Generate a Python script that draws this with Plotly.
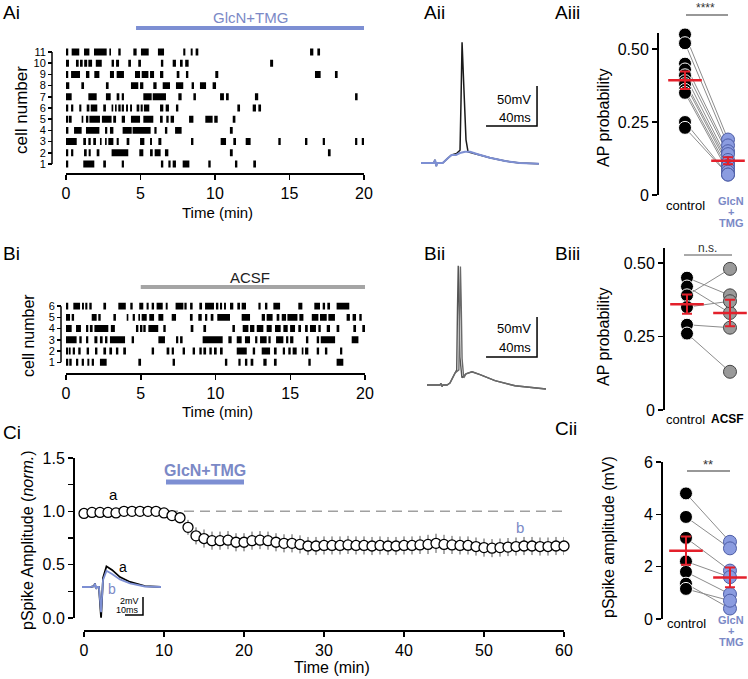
import plotly.graph_objects as go

W, H = 748, 679
FONT = "Liberation Sans, Arial, sans-serif"
BLUE = "#7d8fd3"
BLUE_TXT = "#7b89c6"
BLUE_DOT = "#8b9ce0"
BLUE_EDGE = "#4d5da6"
GRAY_DOT = "#9a9a9a"
RED = "#e3202b"

# ---------------- DATA ----------------
# Ai raster: firing epochs (start, end) in minutes per cell
ai_c11 = [(0.0, 0.15), (0.38, 0.89), (1.21, 1.57), (1.88, 2.73), (2.91, 3.02), (3.51, 3.67), (4.52, 4.74), (5.03, 5.55), (6.17, 6.58), (7.87, 8.01), (8.37, 8.50), (8.70, 8.88), (16.38, 16.60), (16.87, 17.05)]
ai_c10 = [(0.0, 0.2), (0.67, 0.85), (0.94, 1.12), (1.22, 1.42), (1.5, 1.75), (2.0, 2.4), (3.06, 3.22), (3.36, 3.56), (4.18, 4.36), (4.85, 5.03), (6.37, 6.53), (7.16, 7.38), (7.65, 7.83), (8.0, 8.23), (13.7, 13.9)]
ai_c9 = [(0.0, 0.15), (0.34, 0.94), (1.34, 1.57), (1.90, 2.24), (2.95, 3.22), (3.40, 3.89), (4.63, 4.97), (5.08, 5.53), (5.64, 5.91), (6.31, 6.53), (7.43, 7.61), (8.05, 8.21), (10.02, 10.22), (16.71, 17.09), (18.05, 18.23)]
ai_c8 = [(0.0, 0.22), (1.03, 1.21), (2.68, 2.86), (4.36, 4.85), (4.97, 5.19), (5.86, 6.08), (6.49, 6.98), (7.38, 7.87), (8.43, 8.59), (8.99, 9.40), (9.84, 10.07)]
ai_c7 = [(0.0, 0.38), (1.5, 2.06), (2.68, 3.0), (3.4, 3.58), (3.74, 3.89), (5.19, 5.75), (5.82, 6.71), (7.54, 7.76), (8.55, 8.72), (10.34, 10.6), (10.74, 10.92), (12.68, 12.9), (19.4, 19.57)]
ai_c6 = [(0.0, 0.15), (0.34, 0.49), (0.89, 1.03), (1.39, 1.57), (1.66, 2.1), (2.5, 2.68), (3.06, 3.17), (3.29, 3.4), (3.51, 3.67), (3.74, 3.89), (4.03, 4.16), (4.3, 4.43), (4.74, 4.92), (5.01, 5.15), (5.23, 5.59), (6.31, 6.53), (6.69, 6.91), (7.38, 7.54), (11.5, 11.68), (12.53, 12.75), (12.91, 13.09)]
ai_c5 = [(0.0, 0.15), (0.2, 0.38), (1.05, 1.16), (1.34, 1.5), (1.57, 2.28), (2.41, 3.06), (3.17, 3.36), (3.74, 3.96), (4.36, 4.97), (5.19, 5.86), (6.31, 6.49), (6.73, 6.89), (7.02, 7.25), (8.26, 8.55), (9.35, 9.84), (9.95, 10.18), (11.19, 11.37)]
ai_c4 = [(0.0, 0.16), (0.54, 1.05), (1.34, 2.24), (2.62, 2.77), (2.95, 3.18), (3.80, 4.41), (4.47, 5.68), (5.93, 6.08), (6.64, 6.8), (7.32, 7.76), (11.0, 11.19)]
ai_c3 = [(0.0, 0.72), (1.16, 1.34), (1.5, 1.66), (1.83, 2.01), (2.28, 2.39), (2.62, 2.73), (2.84, 3.18), (3.4, 3.54), (4.07, 4.25), (4.97, 5.26), (5.64, 5.77), (6.2, 6.4), (8.39, 8.55), (10.38, 10.74), (11.23, 11.41), (12.06, 12.39), (14.25, 14.41), (16.04, 16.2), (17.23, 17.38), (19.4, 19.55), (19.85, 20.0)]
ai_c2 = [(0.0, 0.15), (0.34, 0.49), (1.21, 1.39), (1.52, 1.66), (2.06, 2.24), (3.06, 4.18), (4.92, 5.19), (5.64, 5.82), (5.95, 6.35), (6.64, 6.87), (11.0, 11.19), (17.58, 17.76)]
ai_c1 = [(0.0, 0.15), (1.16, 1.9), (2.5, 2.68), (3.74, 3.89), (6.37, 6.53), (6.87, 7.02), (7.16, 7.38), (7.83, 8.28), (9.55, 9.71), (11.34, 11.5), (12.57, 12.75)]

# Bi raster
bi_c6 = [(0.0, 0.15), (0.49, 0.94), (1.07, 1.2), (1.29, 1.43), (1.56, 1.72), (2.5, 2.68), (3.5, 4.0), (4.3, 4.46), (4.9, 5.17), (5.39, 5.53), (5.73, 5.89), (6.06, 6.47), (6.67, 6.8), (7.33, 7.85), (7.92, 8.07), (8.3, 8.47), (8.92, 9.1), (9.3, 9.9), (10.03, 10.19), (10.3, 10.44), (10.57, 10.7), (10.97, 11.19), (11.46, 11.64), (11.75, 12.04), (12.87, 13.02), (13.31, 13.47), (13.87, 14.32), (15.54, 15.81), (16.61, 16.99), (17.17, 17.33), (17.48, 17.66), (18.1, 18.95)]
bi_c5 = [(0.0, 0.27), (0.38, 0.54), (1.72, 2.05), (2.16, 2.32), (3.17, 3.34), (4.06, 4.17), (4.46, 4.61), (4.84, 4.95), (5.06, 5.4), (5.57, 5.89), (6.18, 6.51), (7.07, 7.36), (8.29, 8.47), (8.85, 9.08), (9.3, 9.45), (9.68, 9.86), (10.12, 10.97), (11.75, 12.31), (13.09, 13.31), (13.42, 13.82), (14.09, 14.27), (14.43, 14.72), (14.81, 15.48), (15.61, 15.88), (16.44, 16.88), (16.99, 17.44), (17.55, 17.99), (18.77, 18.99), (19.17, 19.4), (19.62, 19.78)]
bi_c4 = [(0.0, 0.38), (0.67, 1.0), (1.34, 1.49), (1.6, 1.78), (1.9, 2.83), (3.0, 3.27), (4.68, 4.84), (4.95, 5.11), (5.17, 5.33), (5.51, 6.17), (6.51, 6.67), (8.34, 8.52), (9.19, 9.37), (11.13, 11.3), (11.82, 12.2), (12.31, 12.6), (12.76, 13.2), (13.42, 13.76), (13.98, 14.36), (14.54, 14.83), (14.99, 15.32), (15.54, 15.72), (15.99, 16.17), (16.32, 16.72), (16.88, 17.04), (17.44, 17.66), (18.1, 18.28), (19.22, 19.4), (19.82, 20.0)]
bi_c3 = [(0.0, 0.71), (0.89, 1.05), (1.34, 1.49), (1.9, 2.1), (2.27, 2.45), (2.61, 2.77), (2.94, 3.95), (4.39, 4.55), (6.18, 6.62), (7.36, 7.51), (7.63, 7.8), (9.14, 10.48), (10.86, 11.08), (11.42, 11.75), (11.97, 12.31), (12.65, 12.8), (12.98, 13.42), (13.54, 13.69), (14.05, 14.54), (14.72, 14.87), (14.99, 15.21), (16.05, 16.21), (16.77, 16.93), (17.04, 18.0), (19.11, 19.56)]
bi_c2 = [(0.0, 0.15), (0.2, 0.31), (0.45, 0.6), (0.82, 0.98), (1.38, 1.54), (1.94, 2.1), (2.5, 2.68), (2.9, 3.08), (3.34, 3.5), (3.83, 4.01), (5.73, 5.89), (6.73, 6.91), (7.07, 7.22), (7.8, 7.96), (8.47, 8.63), (8.92, 9.08), (9.19, 9.37), (9.59, 9.75), (9.9, 10.08), (10.3, 10.48), (11.42, 12.09), (12.49, 12.65), (13.09, 13.65), (13.91, 14.09), (14.5, 14.65), (14.87, 15.03), (15.16, 15.43), (15.77, 15.88), (15.99, 16.21), (16.77, 16.93), (17.32, 17.48), (18.33, 18.48)]
bi_c1 = [(0.0, 0.15), (0.22, 0.38), (0.67, 0.82), (1.05, 1.2), (1.43, 1.56), (1.72, 1.87), (2.27, 2.72), (4.84, 5.02), (7.13, 7.29), (10.63, 10.79), (11.53, 11.68), (11.97, 12.13), (12.35, 12.53), (13.2, 13.42), (13.91, 14.09), (16.21, 16.37), (18.1, 18.55)]

ai_cells = [ai_c1, ai_c2, ai_c3, ai_c4, ai_c5, ai_c6, ai_c7, ai_c8, ai_c9, ai_c10, ai_c11]
bi_cells = [bi_c1, bi_c2, bi_c3, bi_c4, bi_c5, bi_c6]
raster_xticks = [0, 5, 10, 15, 20]
ai_drug = (4.7, 20.0)   # GlcN+TMG application (min)
bi_drug = (5.0, 20.0)   # ACSF

# Aii example traces (ms, mV)
aii_ctrl_t = [0, 7, 10, 11, 12, 12.5, 17, 21, 24, 28, 30.6, 31.4, 32.2, 33.7, 35.3, 36.9, 40, 44.5, 54, 66, 77.5, 92.5]
aii_ctrl_v = [-65, -65, -65, -61, -69, -65, -65, -59, -55, -53, -49, 14, 86, 26, -36, -51, -52.5, -54, -58.5, -62.5, -65, -66]
aii_drug_t = [0, 7, 10, 11, 12, 12.5, 17, 21, 24, 27.5, 30.5, 34.5, 38.5, 44.5, 54, 66, 77.5, 92.5]
aii_drug_v = [-65, -65, -65, -61, -69, -65, -65, -59, -55, -55, -52.5, -51, -51, -54, -58.5, -62.5, -65, -66]
# Bii example traces
bii_t1 = [0, 10.2, 11, 11.8, 12.5, 15.7, 18, 22, 23.3, 23.9, 24.5, 25.1, 25.8, 27.4, 30.6, 35.3, 41.6, 53.3, 69, 93.3]
bii_v1 = [-65, -65, -63, -67, -65, -65, -62.5, -50, -46, 30, 84, 40, -30, -56, -51, -48.5, -52, -59.5, -66, -70]
bii_t2 = [0, 10.2, 11, 11.8, 12.5, 15.7, 18, 22, 25.0, 25.6, 26.2, 26.8, 27.5, 28.8, 30.6, 35.3, 41.6, 53.3, 69, 93.3]
bii_v2 = [-65, -65, -63, -67, -65, -65, -62.5, -50, -46, 30, 83, 40, -32, -56, -51, -48.5, -52, -59.5, -66, -70]
# scale bars: (t0, v0, ms, mV)
aii_scale = (51.0, -18.75, 40, 50)
bii_scale = (46.3, -30.0, 40, 50)

# Aiii AP probability
aiii_ctrl = [0.55, 0.52, 0.45, 0.43, 0.41, 0.39, 0.38, 0.36, 0.35, 0.25, 0.23]
aiii_drug = [0.19, 0.17, 0.15, 0.14, 0.12, 0.11, 0.10, 0.09, 0.08, 0.07, 0.07]
aiii_mean = [0.393, 0.117]
aiii_sem = [0.03, 0.012]
# Biii
biii_ctrl = [0.45, 0.42, 0.39, 0.35, 0.29, 0.26]
biii_acsf = [0.39, 0.33, 0.48, 0.37, 0.28, 0.13]
biii_mean = [0.36, 0.33]
biii_sem = [0.033, 0.045]
prob_ticks = [0, 0.25, 0.5]
prob_ticktext = ["0", "0.25", "0.50"]

# Ci time course
ci_time = list(range(61))
ci_mean = [0.98, 0.99, 0.99, 0.99, 0.985, 1.0, 1.0, 1.0, 1.0, 1.0, 0.985, 0.96, 0.94, 0.85, 0.77, 0.745, 0.725, 0.725, 0.73, 0.71,
           0.71, 0.725, 0.73, 0.725, 0.71, 0.70, 0.70, 0.69, 0.675, 0.675, 0.68, 0.68, 0.68, 0.685, 0.68, 0.68, 0.675, 0.68, 0.675, 0.675,
           0.68, 0.68, 0.685, 0.69, 0.70, 0.69, 0.685, 0.68, 0.68, 0.67, 0.66, 0.655, 0.66, 0.665, 0.67, 0.675, 0.675, 0.67, 0.67, 0.675, 0.675]
ci_sem = [0.02, 0.02, 0.02, 0.02, 0.02, 0.02, 0.02, 0.02, 0.02, 0.02, 0.03, 0.04, 0.05, 0.07, 0.08, 0.085, 0.085, 0.085, 0.085, 0.085,
          0.085, 0.085, 0.085, 0.085, 0.085, 0.085, 0.085, 0.085, 0.085, 0.085, 0.085, 0.085, 0.085, 0.085, 0.085, 0.085, 0.085, 0.085, 0.085, 0.085,
          0.085, 0.085, 0.085, 0.09, 0.09, 0.09, 0.085, 0.085, 0.085, 0.085, 0.085, 0.085, 0.085, 0.085, 0.085, 0.085, 0.085, 0.085, 0.085, 0.085, 0.085]
ci_drug = (10.25, 20.0)
ci_baseline = 1.0
# Ci inset example pSpikes (ms, mV)
ci_inset_t = [0, 4.4, 6.7, 7.2, 7.8, 8.3, 9.4, 10.0, 10.6, 11.1, 11.7, 13.6, 16.7, 21.1, 26.7, 35, 43.9]
ci_inset_a = [0, 0, 0.1, 0.4, -0.2, 0, 0, -2.0, -3.4, -1.4, 1.0, 2.3, 1.9, 1.1, 0.56, 0.1, 0]
ci_inset_b = [0, 0, 0.1, 0.4, -0.2, 0, 0, -1.8, -2.8, -1.2, 0.8, 1.8, 1.45, 0.85, 0.4, 0.06, 0]
ci_scale = (23.9, -3.11, 10, 2)

# Cii pSpike amplitude
cii_ctrl = [4.8, 3.9, 3.1, 2.2, 1.8, 1.35, 1.15]
cii_drug = [2.95, 2.7, 1.85, 1.6, 0.95, 0.4, 0.7]
cii_mean = [2.61, 1.59]
cii_sem = [0.54, 0.38]


# ---------------- helpers ----------------
def fx(px):
    return px / W


def fy(py):
    return 1 - py / H


def txt(text, x, y, size=14, color="black", xanchor="center", yanchor="middle", angle=0):
    return dict(text=text, x=fx(x), y=fy(y), xref="paper", yref="paper", showarrow=False,
                font=dict(size=size, color=color, family=FONT), xanchor=xanchor, yanchor=yanchor,
                textangle=angle)


def axis(dom, rng, pos, tickvals=None, ticktext=None, fs=15, showline=True, ticklen=5, visible=True, horiz=True):
    if horiz:
        d = [fx(dom[0]), fx(dom[1])]
        p = fy(pos) if pos is not None else 0
    else:
        d = [fy(dom[1]), fy(dom[0])]
        p = fx(pos) if pos is not None else 0
    return dict(domain=d, range=rng, anchor="free", position=min(max(p, 0), 1), visible=visible,
                automargin=False,
                showline=showline, linecolor="black", linewidth=1.5, ticks="outside" if tickvals is not None else "",
                ticklen=ticklen, tickwidth=1.5, tickcolor="black", tickvals=tickvals, ticktext=ticktext,
                showticklabels=tickvals is not None,
                tickfont=dict(size=fs, family=FONT, color="black"), showgrid=False, zeroline=False, fixedrange=True)


fig = go.Figure()
shapes = []
ann = []


def raster(cells, xa, ya, width):
    ys, xs, bs = [], [], []
    for i, cell in enumerate(cells):
        for s, e in cell:
            ys.append(i + 1)
            bs.append(s)
            xs.append(e - s)
    fig.add_trace(go.Bar(y=ys, x=xs, base=bs, orientation="h", width=width,
                         marker=dict(color="black", line=dict(width=0)), xaxis=xa, yaxis=ya,
                         showlegend=False, hoverinfo="skip"))


raster(ai_cells, "x", "y", 0.62)
raster(bi_cells, "x4", "y4", 0.62)


def trace(t, v, color, width, xa, ya):
    fig.add_trace(go.Scatter(x=t, y=v, mode="lines", line=dict(color=color, width=width), xaxis=xa, yaxis=ya,
                             showlegend=False, hoverinfo="skip", cliponaxis=False))


def scalebar(sb, xa, ya):
    t0, v0, ms, mv = sb
    trace([t0, t0 + ms, t0 + ms], [v0, v0, v0 + mv], "black", 1.5, xa, ya)


trace(aii_ctrl_t, aii_ctrl_v, "#1a1a1a", 1.5, "x2", "y2")
trace(aii_drug_t, aii_drug_v, BLUE, 2, "x2", "y2")
scalebar(aii_scale, "x2", "y2")
trace(bii_t1, bii_v1, "#555555", 1.4, "x5", "y5")
trace(bii_t2, bii_v2, "#6a6a6a", 1.4, "x5", "y5")
scalebar(bii_scale, "x5", "y5")
trace(ci_inset_t, ci_inset_a, "black", 1.8, "x8", "y8")
trace(ci_inset_t, ci_inset_b, BLUE, 1.8, "x8", "y8")
scalebar(ci_scale, "x8", "y8")


def paired(ctrl, drug, fill2, edge2, mean, sem, xa, ya):
    xs, ys = [], []
    for c, d in zip(ctrl, drug):
        xs += [0, 1, None]
        ys += [c, d, None]
    fig.add_trace(go.Scatter(x=xs, y=ys, mode="lines", line=dict(color="#8c8c8c", width=1),
                             xaxis=xa, yaxis=ya, showlegend=False, hoverinfo="skip", cliponaxis=False))
    fig.add_trace(go.Scatter(x=[0] * len(ctrl), y=ctrl, mode="markers",
                             marker=dict(size=13, color="black", line=dict(color="white", width=1)),
                             xaxis=xa, yaxis=ya, showlegend=False, hoverinfo="skip", cliponaxis=False))
    fig.add_trace(go.Scatter(x=[1] * len(drug), y=drug, mode="markers",
                             marker=dict(size=13, color=fill2, line=dict(color=edge2, width=1)),
                             xaxis=xa, yaxis=ya, showlegend=False, hoverinfo="skip", cliponaxis=False))
    fig.add_trace(go.Scatter(x=[0, 1], y=mean, mode="markers",
                             marker=dict(symbol="line-ew", size=24, line=dict(color=RED, width=2.5)),
                             error_y=dict(type="data", array=sem, color=RED, thickness=2, width=5),
                             xaxis=xa, yaxis=ya, showlegend=False, hoverinfo="skip", cliponaxis=False))


paired(aiii_ctrl, aiii_drug, BLUE_DOT, BLUE_EDGE, aiii_mean, aiii_sem, "x3", "y3")
paired(biii_ctrl, biii_acsf, GRAY_DOT, "#444444", biii_mean, biii_sem, "x6", "y6")
paired(cii_ctrl, cii_drug, BLUE_DOT, BLUE_EDGE, cii_mean, cii_sem, "x9", "y9")

# Ci time course
fig.add_trace(go.Scatter(x=ci_time, y=ci_mean, mode="markers",
                         marker=dict(symbol="circle", size=10, color="white", line=dict(color="black", width=1.3)),
                         error_y=dict(type="data", array=ci_sem, color="#555555", thickness=1, width=0),
                         xaxis="x7", yaxis="y7", showlegend=False, hoverinfo="skip", cliponaxis=False))

# ---------------- layout ----------------
lay = {}
# Ai
lay["xaxis"] = axis((66, 364), [0, 20], 173, raster_xticks, [str(v) for v in raster_xticks], fs=16)
lay["yaxis"] = axis((45.3, 170.7), [0.4, 11.6], 52, list(range(1, 12)), [str(v) for v in range(1, 12)],
                    fs=11, showline=False, ticklen=4, horiz=False)
shapes.append(dict(type="line", xref="paper", yref="y", x0=fx(52), x1=fx(52), y0=1, y1=11,
                   line=dict(color="black", width=1.5)))
# Aii
lay["xaxis2"] = axis((415, 545), [-4.71, 97.25], None, visible=False)
lay["yaxis2"] = axis((35, 170), [-73.75, 95], None, visible=False, horiz=False)
# Aiii
lay["xaxis3"] = axis((657, 748), [-0.651, 1.465], None, visible=False)
lay["yaxis3"] = axis((33, 195), [0, 0.555], 657, prob_ticks, prob_ticktext, fs=16, horiz=False)
# Bi
lay["xaxis4"] = axis((66, 365), [0, 20], 373, raster_xticks, [str(v) for v in raster_xticks], fs=16)
lay["yaxis4"] = axis((299.4, 369), [0.4, 6.6], 61, list(range(1, 7)), [str(v) for v in range(1, 7)],
                     fs=11, showline=False, ticklen=4, horiz=False)
shapes.append(dict(type="line", xref="paper", yref="y4", x0=fx(61), x1=fx(61), y0=1, y1=6,
                   line=dict(color="black", width=1.5)))
# Bii
lay["xaxis5"] = axis((421, 551), [-4.71, 97.25], None, visible=False)
lay["yaxis5"] = axis((257, 392), [-73.75, 95], None, visible=False, horiz=False)
# Biii
lay["xaxis6"] = axis((663, 748), [-0.558, 1.419], None, visible=False)
lay["yaxis6"] = axis((248, 410), [0, 0.551], 663, prob_ticks, prob_ticktext, fs=16, horiz=False)
# Ci
lay["xaxis7"] = axis((84, 564), [0, 60], 630, [0, 10, 20, 30, 40, 50, 60], None, fs=16)
ci_yt = [0, 0.25, 0.5, 0.75, 1.0, 1.25, 1.5]
lay["yaxis7"] = axis((458, 618), [0, 1.5], 73, ci_yt, ["0.0", "", "0.5", "", "1.0", "", "1.5"], fs=16, horiz=False)
# Ci inset
lay["xaxis8"] = axis((76, 170), [-3.33, 48.9], None, visible=False)
lay["yaxis8"] = axis((555, 622), [-3.89, 3.56], None, visible=False, horiz=False)
# Cii
lay["xaxis9"] = axis((661, 748), [-0.568, 1.41], None, visible=False)
lay["yaxis9"] = axis((462, 619), [0, 6], 661, [0, 2, 4, 6], ["0", "2", "4", "6"], fs=16, horiz=False)

# drug bars
shapes.append(dict(type="line", xref="x", yref="paper", x0=ai_drug[0], x1=ai_drug[1], y0=fy(28), y1=fy(28),
                   line=dict(color=BLUE, width=4)))
shapes.append(dict(type="line", xref="x4", yref="paper", x0=bi_drug[0], x1=bi_drug[1], y0=fy(287), y1=fy(287),
                   line=dict(color="#a5a5a5", width=4)))
shapes.append(dict(type="line", xref="x7", yref="paper", x0=ci_drug[0], x1=ci_drug[1], y0=fy(482), y1=fy(482),
                   line=dict(color=BLUE, width=5)))
shapes.append(dict(type="line", xref="x7", yref="y7", x0=10.5, x1=60, y0=ci_baseline, y1=ci_baseline,
                   line=dict(color="#a0a0a0", width=1.5, dash="10px,6px"), layer="below"))
# significance lines
shapes.append(dict(type="line", xref="paper", yref="paper", x0=fx(686), x1=fx(728), y0=fy(15), y1=fy(15),
                   line=dict(color="#333", width=1.2)))
shapes.append(dict(type="line", xref="paper", yref="paper", x0=fx(684), x1=fx(732), y0=fy(255), y1=fy(255),
                   line=dict(color="#555", width=1)))
shapes.append(dict(type="line", xref="paper", yref="paper", x0=fx(687), x1=fx(730), y0=fy(471), y1=fy(471),
                   line=dict(color="#333", width=1.2)))

# text
ann += [
    txt("Ai", 1, 12, 19, xanchor="left"), txt("Aii", 422, 12, 19, xanchor="left"), txt("Aiii", 553, 12, 19, xanchor="left"),
    txt("Bi", 1, 253, 19, xanchor="left"), txt("Bii", 422, 253, 19, xanchor="left"), txt("Biii", 553, 253, 19, xanchor="left"),
    txt("Ci", 1, 433, 19, xanchor="left"), txt("Cii", 553, 428, 19, xanchor="left"),
    txt("GlcN+TMG", 250, 17, 15, BLUE_TXT),
    txt("ACSF", 250, 277, 15, "#222"),
    txt("<b>GlcN+TMG</b>", 205, 470, 16, BLUE_TXT),
    txt("cell number", 22, 110, 17, angle=-90),
    txt("cell number", 28, 335, 16, angle=-90),
    txt("Time (min)", 217, 212, 15),
    txt("Time (min)", 217, 412, 15),
    txt("Time (min)", 332, 667, 16),
    txt("AP probability", 603, 118, 16, angle=-90),
    txt("AP probability", 603, 337, 16, angle=-90),
    txt("pSpike Amplitude (<i>norm.</i>)", 27, 540, 16, angle=-90),
    txt("pSpike amplitude (mV)", 608, 537, 16, angle=-90),
    txt("50mV", 533, 99, 13, xanchor="right"), txt("40ms", 533, 117, 13, xanchor="right"),
    txt("50mV", 533, 328, 13, xanchor="right"), txt("40ms", 533, 347, 13, xanchor="right"),
    txt("2mV", 141, 601, 9, xanchor="right"), txt("10ms", 141, 610, 9, xanchor="right"),
    txt("a", 113, 494, 15), txt("b", 520, 527, 15, BLUE_TXT),
    txt("a", 123, 567, 14), txt("b", 112, 589, 14, BLUE_TXT),
    txt("****", 705, 8, 12, "#333"), txt("n.s.", 707, 248, 12, "#333"), txt("**", 708, 464, 13, "#333"),
    txt("control", 685, 205, 13), txt("control", 685, 419, 13), txt("control", 686, 623, 13),
    txt("<b>ACSF</b>", 727, 419, 12),
    txt("<b>GlcN</b>", 731, 201, 11, BLUE_TXT), txt("<b>+</b>", 731, 212, 11, BLUE_TXT), txt("<b>TMG</b>", 731, 223, 11, BLUE_TXT),
    txt("<b>GlcN</b>", 731, 620, 11, BLUE_TXT), txt("<b>+</b>", 731, 631, 11, BLUE_TXT), txt("<b>TMG</b>", 731, 642, 11, BLUE_TXT),
]

fig.update_layout(width=W, height=H, autosize=False, margin=dict(l=0, r=0, t=0, b=0, autoexpand=False),
                  paper_bgcolor="white", plot_bgcolor="rgba(0,0,0,0)", barmode="overlay",
                  font=dict(family=FONT, color="black"), shapes=shapes, annotations=ann, **lay)

fig.write_html("out.html", config={"displayModeBar": False, "staticPlot": True},
               post_script="document.body.style.margin='0px';document.body.style.padding='0px';"
                           "document.documentElement.style.overflow='hidden';")
